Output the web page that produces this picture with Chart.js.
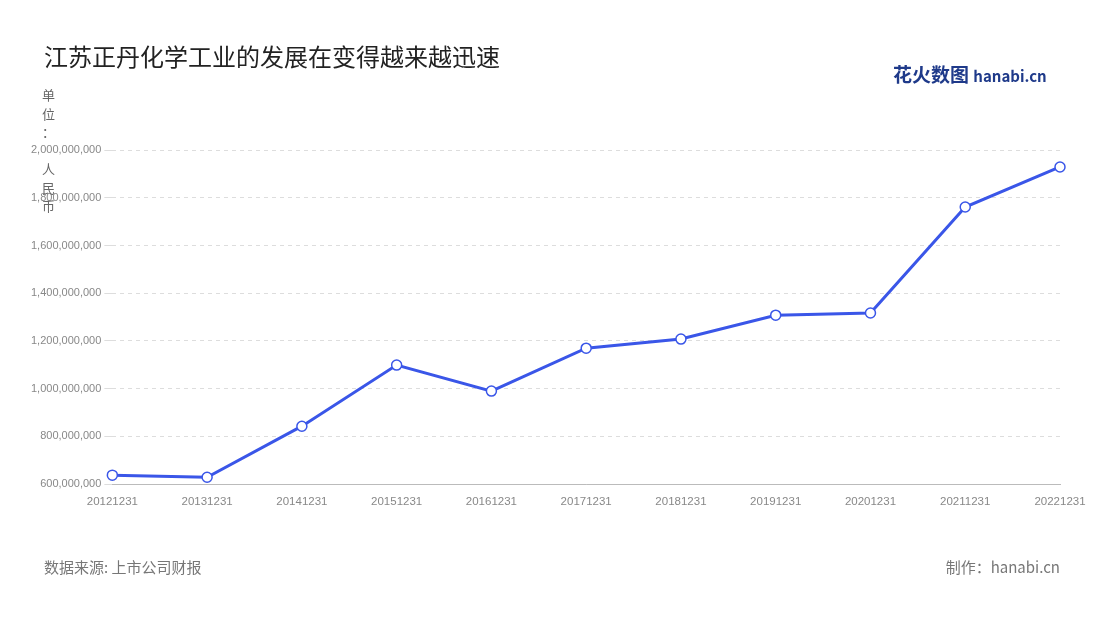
<!DOCTYPE html>
<html><head><meta charset="utf-8">
<script src="https://cdn.jsdelivr.net/npm/chart.js@4/dist/chart.umd.min.js"></script>
<style>
body{margin:0;background:#fff;font-family:"Noto Sans CJK SC","Noto Sans",sans-serif;}
#wrap{position:relative;width:1100px;height:620px;}
#title{position:absolute;left:44px;top:38px;font-size:24px;color:#222;}
#logo{position:absolute;left:893px;top:60px;font-size:19px;font-weight:bold;color:#1f3a8a;}
#logo span{font-size:15px;}
#unit{position:absolute;left:42px;top:86px;width:16px;font-size:13px;line-height:18.5px;color:#666;}
#src{position:absolute;left:44px;top:556px;font-size:15px;color:#777;}
#maker{position:absolute;right:40px;top:556px;font-size:15px;color:#777;}
#c{position:absolute;left:0;top:0;}
</style></head><body>
<div id="wrap">
<canvas id="c" width="1100" height="620"></canvas>
<div id="title">江苏正丹化学工业的发展在变得越来越迅速</div>
<div id="logo">花火数图 <span>hanabi.cn</span></div>
<div id="unit">单<br>位<br>：<br><br>人<br>民<br>币</div>
<div id="src">数据来源: 上市公司财报</div>
<div id="maker">制作：hanabi.cn</div>
</div>
<script>
const labels = ['20121231','20131231','20141231','20151231','20161231','20171231','20181231','20191231','20201231','20211231','20221231'];
const values = [638000000,629000000,843000000,1099000000,990000000,1170000000,1208000000,1308000000,1317000000,1761000000,1929000000];

new Chart(document.getElementById('c').getContext('2d'), {
    type: 'line',
    data: {
        labels: labels,
        datasets: [{
            data: values,
            borderColor: '#3a56e8',
            borderWidth: 3,
            pointBackgroundColor: '#fff',
            pointBorderColor: '#3a56e8',
            pointBorderWidth: 1.5,
            pointRadius: 5,
            tension: 0
        }]
    },
    options: {
        responsive: false,
        animation: false,
        layout: {padding: {left: 28, right: 40, top: 150, bottom: 108}},
        plugins: {legend: {display: false}, tooltip: {enabled: false}},
        scales: {
            x: {
                offset: false,
                grid: {display: false},
                border: {color: '#bbb'},
                ticks: {color: '#888', font: {size: 11.5}, maxRotation: 0, autoSkip: false}
            },
            y: {
                min: 600000000, max: 2000000000,
                ticks: {stepSize: 200000000, color: '#888', font: {size: 11},
                    callback: v => v.toLocaleString('en-US')},
                grid: {color: '#ddd'},
                border: {display: false, dash: [4, 4]}
            }
        }
    }
});
</script>
</body></html>
